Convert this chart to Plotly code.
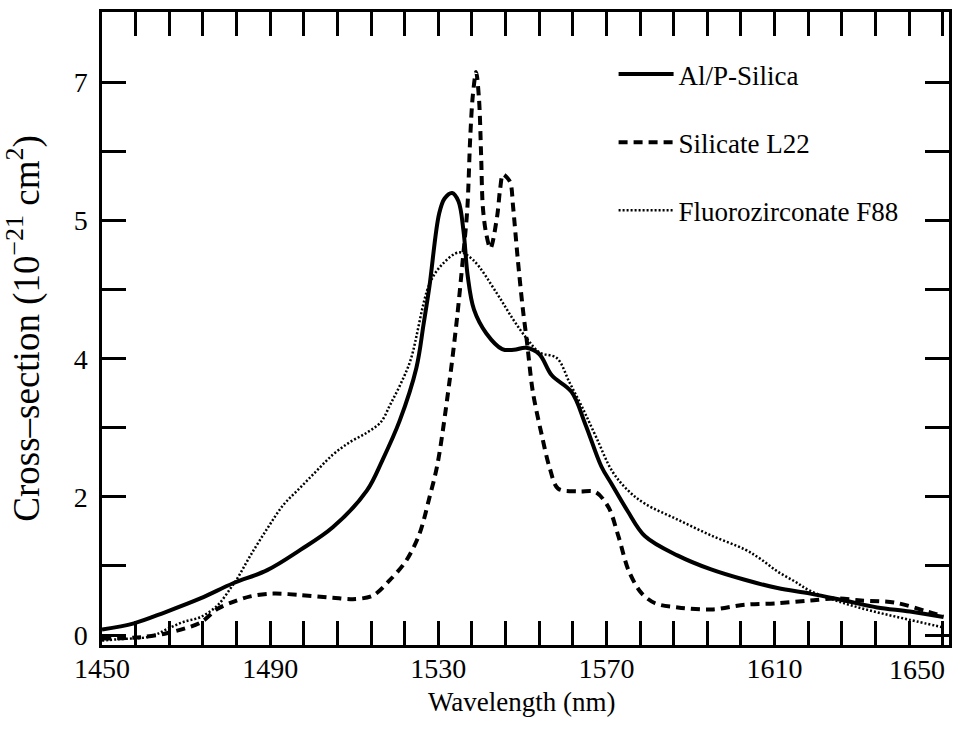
import plotly.graph_objects as go

# ---- data (wavelength in nm, cross-section on the plotted linear scale) ----
alp_wl = [1450, 1457.6, 1465, 1473.4, 1481.2, 1489.3, 1497.1, 1504.9, 1513, 1516.7, 1520.8, 1524.8,
          1526.5, 1527.9, 1530.2, 1531.5, 1533.3, 1534.8, 1536.0, 1537.0, 1538.5, 1541.4, 1545.2, 1548,
          1550.9, 1554, 1557, 1561.7, 1565, 1568.8, 1571.2, 1575, 1579.2, 1587, 1594.9, 1602.9,
          1610.7, 1618.5, 1626.6, 1634.4, 1642.2, 1650.2]
alp_val = [0.08, 0.17, 0.33, 0.53, 0.75, 0.94, 1.23, 1.56, 2.09, 2.53, 3.10, 3.87,
           4.5, 5.05, 6.1, 6.32, 6.40, 6.28, 5.85, 5.2, 4.71, 4.37, 4.14, 4.13,
           4.16, 4.07, 3.76, 3.52, 3.05, 2.44, 2.19, 1.8, 1.43, 1.15, 0.95, 0.80,
           0.68, 0.60, 0.50, 0.40, 0.34, 0.26]

sil_wl = [1450, 1459.5, 1465.6, 1473.4, 1477.5, 1481.2, 1485.3, 1490.7, 1497.1, 1504.9, 1509.6,
          1514.4, 1518.4, 1522.4, 1525.5, 1527.9, 1529.8, 1532.6, 1534.5, 1535.9, 1536.9, 1537.6,
          1538.2, 1539, 1539.7, 1540.2, 1540.6, 1541.4, 1542.4, 1544.0, 1544.7, 1545.4, 1546.4,
          1547.2, 1547.8, 1548.9, 1550.1, 1551.1, 1552.5, 1554.6, 1556.5, 1558.5, 1563.4, 1567.4,
          1570.5, 1572.9, 1575.3, 1578.3, 1581.6, 1587, 1595, 1603, 1610.7, 1618.5, 1625, 1630.6,
          1638.6, 1646.4, 1650.2]
sil_val = [-0.05, -0.03, 0.03, 0.18, 0.38, 0.48, 0.56, 0.60, 0.58, 0.54, 0.52,
           0.57, 0.79, 1.08, 1.46, 1.99, 2.47, 3.64, 4.61, 5.48, 6.16, 7.2,
           7.8, 8.15, 7.75, 6.93, 6.2, 5.81, 5.6, 6.06, 6.45, 6.67, 6.62,
           6.54, 6.2, 5.45, 4.73, 4.24, 3.52, 2.90, 2.42, 2.12, 2.08, 2.07,
           1.85, 1.42, 0.93, 0.61, 0.46, 0.40, 0.37, 0.44, 0.46, 0.50, 0.53, 0.50,
           0.47, 0.34, 0.27]

flu_wl = [1450, 1454, 1461.6, 1465.6, 1469.4, 1473.4, 1477.5, 1480.5, 1482.2, 1485.3, 1489.3,
          1493.1, 1497.1, 1501.1, 1504.9, 1508.9, 1513, 1516.3, 1518.6, 1521, 1523.4, 1527.9,
          1531, 1535, 1538.3, 1543.9, 1547.8, 1551.1, 1554.1, 1558.2, 1561.2, 1564.3, 1567.6,
          1571.4, 1575.2, 1579.2, 1587, 1595, 1602.9, 1606.7, 1610.7, 1614.7, 1618.5, 1626.6,
          1634.4, 1642.2, 1650.2]
flu_val = [-0.08, -0.06, -0.02, 0.09, 0.19, 0.26, 0.43, 0.67, 0.82, 1.15, 1.54,
           1.88, 2.13, 2.38, 2.61, 2.79, 2.93, 3.08, 3.34, 3.63, 3.98, 5.08,
           5.37, 5.54, 5.43, 4.95, 4.57, 4.29, 4.09, 4.01, 3.66, 3.29, 2.86,
           2.37, 2.09, 1.90, 1.67, 1.44, 1.24, 1.10, 0.92, 0.78, 0.64, 0.46,
           0.33, 0.22, 0.11]

series_names = ["Al/P-Silica", "Silicate L22", "Fluorozirconate F88"]

x_tickvals = list(range(1450, 1651, 8))
x_labelled = [1450, 1490, 1530, 1570, 1610, 1650]
x_ticktext = [str(v) if (v in x_labelled and v != 1650) else "" for v in x_tickvals]
last_x_label = "1650"
x_title = "Wavelength (nm)"
y_title = "Cross\u2013section (10<sup>\u221221</sup> cm<sup>2</sup>)"
y_tickvals = [0, 1, 2, 3, 4, 5, 6, 7, 8]
y_ticktext = ["0", "", "2", "", "4", "", "5", "", "7"]

FONT = "Liberation Serif, Times New Roman, Times, serif"

fig = go.Figure()
fig.add_trace(go.Scatter(x=alp_wl, y=alp_val, mode="lines", name=series_names[0],
                         legendgroup="a",
                         line=dict(color="black", width=4, shape="spline", smoothing=1.0)))
fig.add_trace(go.Scatter(x=sil_wl, y=sil_val, mode="lines", name=series_names[1],
                         legendgroup="b",
                         line=dict(color="black", width=4, dash="9px,6px", shape="spline", smoothing=0.9)))
fig.add_trace(go.Scatter(x=flu_wl, y=flu_val, mode="lines", name=series_names[2],
                         legendgroup="c",
                         line=dict(color="black", width=2.5, dash="2px,2px", shape="spline", smoothing=1.0)))

axis_common = dict(showline=True, linecolor="black", linewidth=2.5, mirror="ticks",
                   ticks="inside", ticklen=24, tickwidth=2.5, tickcolor="black",
                   showgrid=False, zeroline=False,
                   tickfont=dict(family=FONT, size=28, color="black"))

fig.update_xaxes(range=[1450, 1651.5], tickmode="array", tickvals=x_tickvals, ticktext=x_ticktext,
                 ticklabelstandoff=-3,
                 **axis_common)
fig.update_yaxes(range=[-0.144, 9.02], tickmode="array", tickvals=y_tickvals, ticktext=y_ticktext,
                 title=dict(text=y_title,
                            font=dict(family=FONT, size=37, color="black"), standoff=24),
                 ticklabelstandoff=6,
                 **axis_common)

# last x tick label, pulled inside the right edge as in the original
fig.add_annotation(x=1650, y=0, xref="x", yref="paper", text=last_x_label,
                   showarrow=False, xanchor="right", yanchor="top", xshift=4, yshift=-7,
                   font=dict(family=FONT, size=28, color="black"))
# x-axis title
fig.add_annotation(x=0.5, y=-0.09, xref="paper", yref="paper", text=x_title,
                   showarrow=False, xanchor="center", yanchor="middle", xshift=-4,
                   font=dict(family=FONT, size=27, color="black"))

fig.update_layout(
    width=961, height=739,
    margin=dict(l=102, r=9, t=10, b=94),
    paper_bgcolor="white", plot_bgcolor="white",
    font=dict(family=FONT, color="black"),
    showlegend=True,
    legend=dict(x=0.604, y=0.94, xanchor="left", yanchor="top",
                traceorder="grouped", tracegroupgap=30, itemwidth=55,
                bgcolor="rgba(0,0,0,0)", borderwidth=0,
                font=dict(family=FONT, size=27, color="black")),
)

fig.write_html("out.html")
